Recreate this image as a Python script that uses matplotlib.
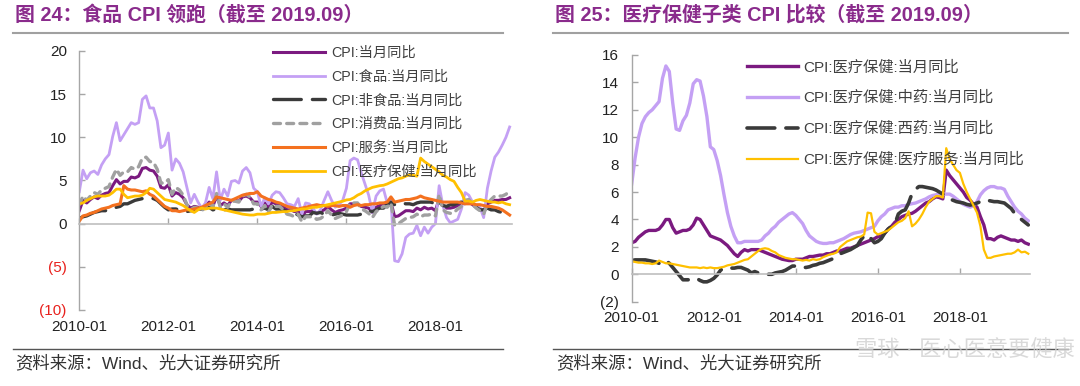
import matplotlib
matplotlib.use("Agg")
import matplotlib.pyplot as plt
from matplotlib.lines import Line2D
import numpy as np

plt.rcParams['font.family'] = ['Liberation Sans', 'Noto Sans CJK SC', 'DejaVu Sans']
plt.rcParams['lines.scale_dashes'] = False

# ---------------- data (monthly, 2010-01 .. 2019-09) ----------------
xtick_labels = ['2010-01', '2012-01', '2014-01', '2016-01', '2018-01']
xtick_months = [0, 24, 48, 72, 96]

cpi = [1.5, 2.7, 2.4, 2.8, 3.1, 2.9, 3.3, 3.5, 3.6, 4.4, 5.1, 4.6,
       4.9, 4.9, 5.4, 5.3, 5.5, 6.4, 6.5, 6.2, 6.1, 5.5, 4.2, 4.1,
       4.5, 3.2, 3.6, 3.4, 3.0, 2.2, 1.8, 2.0, 1.9, 1.7, 2.0, 2.5,
       2.0, 3.2, 2.1, 2.4, 2.1, 2.7, 2.7, 2.6, 3.1, 3.2, 3.0, 2.5,
       2.5, 2.0, 2.4, 1.8, 2.5, 2.3, 2.3, 2.0, 1.6, 1.6, 1.4, 1.5,
       0.8, 1.4, 1.4, 1.5, 1.2, 1.4, 1.6, 2.0, 1.6, 1.3, 1.5, 1.6,
       1.8, 2.3, 2.3, 2.3, 2.0, 1.9, 1.8, 1.3, 1.9, 2.1, 2.3, 2.1,
       2.5, 0.8, 0.9, 1.2, 1.5, 1.5, 1.4, 1.8, 1.6, 1.9, 1.7, 1.8,
       1.5, 2.9, 2.1, 1.8, 1.8, 1.9, 2.1, 2.3, 2.5, 2.5, 2.2, 1.9,
       1.7, 1.5, 2.3, 2.5, 2.7, 2.7, 2.8, 2.8, 3.0]

food = [3.7, 6.2, 5.2, 5.9, 6.1, 5.7, 6.8, 7.5, 8.0, 10.1, 11.7, 9.6,
        10.3, 11.0, 11.7, 11.5, 11.7, 14.4, 14.8, 13.4, 13.4, 11.9, 8.8, 9.1,
        10.5, 6.2, 7.5, 7.0, 6.0, 4.2, 2.4, 3.4, 2.5, 1.8, 2.4, 4.2,
        2.9, 6.0, 2.7, 4.0, 3.2, 4.9, 5.0, 4.7, 6.1, 6.5, 5.9, 4.1,
        3.7, 2.0, 3.0, 2.3, 3.3, 3.7, 3.6, 3.0, 2.3, 2.2, 2.0, 2.9,
        1.1, 2.4, 2.3, 1.8, 1.1, 1.6, 2.7, 3.7, 2.7, 1.9, 2.2, 2.7,
        4.1, 7.3, 7.6, 7.4, 5.9, 4.6, 3.3, 1.3, 3.2, 3.8, 4.0, 2.4,
        2.7, -4.3, -4.4, -3.5, -1.6, -1.2, -1.1, -0.2, -1.4, -0.4, -1.1, -0.4,
        0.0, 4.4, 2.1, 0.7, 0.1, 0.3, 0.5, 1.7, 3.6, 3.3, 2.5, 1.9,
        1.9, 0.7, 4.1, 6.1, 7.7, 8.3, 9.1, 10.0, 11.2]

nonfood = [0.6, 0.8, 0.9, 1.1, 1.3, 1.4, 1.5, 1.5, 1.6, 1.7, 1.9, 2.0,
           2.3, 2.3, 2.5, 2.7, 2.8, 2.9, 2.9, 3.0, 2.9, 2.7, 2.3, 1.9,
           1.6, 1.7, 1.7, 1.6, 1.5, 1.4, 1.5, 1.5, 1.7, 1.7, 1.8, 1.9,
           1.6, 1.7, 1.7, 1.6, 1.7, 1.6, 1.6, 1.6, 1.6, 1.6, 1.6, 1.7,
           2.0, 1.7, 1.8, 1.6, 2.0, 1.7, 1.7, 1.6, 1.4, 1.4, 1.2, 1.0,
           0.8, 0.9, 0.9, 1.3, 1.2, 1.3, 1.1, 1.0, 1.0, 1.1, 1.2, 1.1,
           1.0, 1.0, 1.0, 1.0, 1.1, 1.2, 1.5, 1.4, 1.6, 1.8, 1.8, 2.2,
           2.5, 2.2, 2.3, 2.4, 2.3, 2.3, 2.2, 2.4, 2.5, 2.5, 2.5, 2.5,
           2.0, 2.5, 2.1, 2.0, 2.2, 2.2, 2.4, 2.5, 2.3, 2.4, 2.2, 1.9,
           1.6, 1.6, 1.8, 1.6, 1.6, 1.4, 1.3, 1.1, 1.0]

consumer = [2.2, 3.2, 2.7, 3.2, 3.6, 3.4, 3.9, 4.1, 4.3, 5.4, 6.3, 5.6,
            6.0, 6.0, 6.5, 6.3, 6.6, 7.6, 7.7, 7.2, 7.1, 6.3, 4.7, 4.7,
            5.1, 3.4, 4.2, 3.9, 3.3, 2.2, 1.6, 1.9, 1.8, 1.5, 1.9, 2.6,
            1.9, 3.5, 1.9, 2.3, 1.9, 2.6, 2.6, 2.5, 3.2, 3.4, 3.1, 2.3,
            2.3, 1.6, 2.1, 1.3, 2.2, 2.0, 2.0, 1.6, 1.1, 1.0, 0.8, 1.1,
            0.2, 0.8, 0.8, 0.8, 0.5, 0.6, 0.9, 1.5, 1.0, 0.6, 0.8, 1.0,
            1.4, 2.4, 2.4, 2.4, 1.7, 1.5, 1.2, 0.7, 1.4, 1.7, 2.0, 1.9,
            2.4, -0.2, 0.0, 0.3, 0.6, 0.7, 0.8, 1.1, 0.8, 1.0, 1.0, 1.1,
            0.9, 3.4, 1.6, 1.3, 1.2, 1.3, 1.7, 2.0, 2.7, 2.8, 2.3, 1.8,
            1.5, 1.1, 2.3, 2.8, 3.2, 3.2, 3.2, 3.4, 3.8]

services = [0.3, 0.9, 1.0, 1.2, 1.3, 1.5, 1.7, 1.8, 1.9, 2.1, 2.2, 2.3,
            4.4, 4.0, 3.9, 3.9, 3.8, 3.7, 3.8, 3.4, 3.2, 2.8, 2.4, 2.0,
            1.8, 1.5, 1.5, 1.4, 1.5, 1.6, 1.6, 1.7, 1.8, 1.9, 2.1, 2.3,
            2.5, 3.1, 3.0, 2.9, 2.8, 2.7, 2.9, 3.1, 3.3, 3.4, 3.5, 3.5,
            3.7, 3.2, 3.0, 2.8, 2.7, 2.5, 2.4, 2.2, 2.0, 1.9, 1.8, 1.7,
            1.8, 1.9, 2.0, 2.1, 2.2, 2.1, 2.1, 2.0, 2.1, 2.1, 2.0, 2.1,
            2.1, 1.9, 2.1, 2.2, 2.1, 2.2, 2.2, 2.3, 2.3, 2.4, 2.4, 2.5,
            3.1, 2.5, 2.6, 2.7, 2.8, 2.8, 2.9, 3.0, 3.2, 3.0, 2.9, 2.8,
            2.7, 2.6, 2.5, 2.5, 2.5, 2.5, 2.5, 2.4, 2.3, 2.3, 2.3, 2.2,
            2.2, 2.1, 2.0, 2.0, 1.9, 1.8, 1.6, 1.3, 1.0]

healthcare = [2.3, 2.4, 2.7, 2.9, 3.1, 3.2, 3.2, 3.2, 3.3, 3.6, 4.0, 4.0,
              3.4, 3.0, 3.1, 3.2, 3.2, 3.3, 3.6, 4.1, 4.0, 3.6, 3.2, 2.8,
              2.7, 2.6, 2.5, 2.3, 2.1, 1.8, 1.5, 1.3, 1.6, 1.8, 1.7, 1.8,
              1.8, 1.8, 1.7, 1.6, 1.5, 1.4, 1.3, 1.2, 1.1, 1.05, 1.0, 1.0,
              1.1, 1.1, 1.1, 1.2, 1.3, 1.3, 1.35, 1.4, 1.4, 1.5, 1.5, 1.6,
              1.7, 1.7, 1.8, 1.9, 1.9, 2.0, 2.1, 2.2, 2.3, 2.4, 2.5, 2.6,
              2.75, 2.8, 3.0, 3.3, 3.5, 3.8, 4.0, 4.2, 4.3, 4.4, 4.45, 4.6,
              4.8, 5.0, 5.2, 5.3, 5.5, 5.65, 5.6, 5.5, 7.6, 7.2, 6.9, 6.6,
              6.3, 6.0, 5.6, 5.4, 5.1, 4.9, 4.2, 3.6, 2.6, 2.6, 2.5, 2.7,
              2.8, 2.7, 2.6, 2.5, 2.5, 2.4, 2.5, 2.3, 2.2]

tcm = [6.6, 8.5, 10.0, 11.0, 11.5, 11.8, 12.0, 12.3, 12.6, 14.3, 15.2, 14.8,
       12.5, 10.6, 10.5, 11.2, 11.6, 12.5, 13.9, 14.2, 14.1, 13.0, 11.5, 9.3,
       9.1, 8.3, 7.2, 5.8, 4.5, 3.5, 2.8, 2.3, 2.3, 2.4, 2.4, 2.4,
       2.4, 2.4, 2.5, 2.8, 3.0, 3.3, 3.5, 3.8, 4.0, 4.2, 4.4, 4.5,
       4.3, 4.0, 3.7, 3.2, 2.8, 2.6, 2.4, 2.3, 2.25, 2.25, 2.3, 2.3,
       2.4, 2.5, 2.6, 2.75, 2.9, 3.0, 3.05, 3.1, 3.2, 3.3, 3.4, 3.5,
       3.9, 4.2, 4.4, 4.7, 4.8, 4.9, 4.9, 5.0, 5.0, 5.1, 5.15, 5.2,
       5.3, 5.4, 5.5, 5.65, 5.75, 5.8, 5.85, 5.85, 5.85, 5.85, 5.7, 5.5,
       5.3, 5.1, 5.0, 4.9, 5.0, 5.3, 5.8, 6.1, 6.3, 6.4, 6.4, 6.3,
       6.3, 6.2, 5.7, 5.3, 4.9, 4.6, 4.4, 4.1, 3.9]

western = [1.0, 1.05, 1.05, 1.05, 1.05, 1.0, 0.95, 0.9, 0.8, 1.0, 1.0, 0.8,
           0.5, 0.2, -0.1, -0.4, -0.4, -0.4, -0.35, -0.3, -0.45, -0.55, -0.55, -0.45,
           -0.3, -0.05, 0.3, 0.45, 0.45, 0.45, 0.45, 0.5, 0.5, 0.4, 0.3, 0.1,
           0.2, 0.1, 0.0, 0.0, 0.0, 0.0, 0.1, 0.15, 0.2, 0.3, 0.45, 0.6,
           0.6, 0.55, 0.5, 0.5, 0.55, 0.65, 0.7, 0.8, 0.85, 0.95, 1.05, 1.15,
           1.3, 1.5, 1.6, 1.7, 1.8, 1.95, 2.1, 2.5, 2.8, 2.9, 2.6, 2.3,
           2.4, 2.6, 3.0, 3.3, 3.5, 3.7, 4.4, 4.6, 4.7, 5.2, 5.9, 6.2,
           6.4, 6.4, 6.35, 6.3, 6.25, 6.15, 6.0, 5.85, 5.7, 5.5, 5.4, 5.3,
           5.25, 5.2, 5.1, 5.05, 5.1, 5.2, 5.3, 5.4, 5.4, 5.35, 5.3, 5.3,
           5.25, 5.2, 5.0, 4.8, 4.45, 4.2, 4.0, 3.8, 3.6]

medservice = [0.95, 0.9, 0.85, 0.85, 0.8, 0.8, 0.75, 0.8, 1.0, 0.9, 0.8, 0.8,
              0.75, 0.7, 0.65, 0.6, 0.55, 0.5, 0.5, 0.5, 0.45, 0.5, 0.45, 0.5,
              0.45, 0.45, 0.5, 0.55, 0.65, 0.7, 0.75, 0.85, 0.95, 1.05, 1.1, 1.3,
              1.5, 1.7, 1.85, 1.9, 1.85, 1.7, 1.6, 1.4, 1.3, 1.2, 1.15, 1.1,
              1.1, 1.05, 1.0, 1.05, 1.0, 1.1, 1.05, 1.1, 1.25, 1.35, 1.45, 1.5,
              1.6, 2.0, 2.2, 2.4, 2.5, 2.6, 2.7, 2.75, 2.9, 4.5, 4.45, 3.1,
              2.9, 3.0, 3.1, 3.2, 3.4, 3.6, 3.8, 3.9, 4.1, 4.6, 3.5, 3.7,
              4.0, 4.4, 4.9, 5.3, 5.5, 5.7, 5.7, 5.6, 9.2, 8.4, 8.0, 7.6,
              7.4, 6.6, 6.0, 5.5, 5.0, 4.5, 3.5, 1.8, 1.2, 1.2, 1.3, 1.35,
              1.4, 1.45, 1.5, 1.5, 1.6, 1.8, 1.6, 1.65, 1.5]

left_labels = ['CPI:当月同比', 'CPI:食品:当月同比', 'CPI:非食品:当月同比',
               'CPI:消费品:当月同比', 'CPI:服务:当月同比', 'CPI:医疗保健:当月同比']
right_labels = ['CPI:医疗保健:当月同比', 'CPI:医疗保健:中药:当月同比',
                'CPI:医疗保健:西药:当月同比', 'CPI:医疗保健:医疗服务:当月同比']

title_left = '图 24：食品 CPI 领跑（截至 2019.09）'
title_right = '图 25：医疗保健子类 CPI 比较（截至 2019.09）'
source_text = '资料来源：Wind、光大证券研究所'

# ---------------- style ----------------
C_PURPLE = '#7B1A80'
C_LAV = '#C4A0F4'
C_DARK = '#3A3A3A'
C_GRAY = '#A0A0A0'
C_ORANGE = '#F4711F'
C_YELLOW = '#FFC000'
AX_COLOR = '#A6A6A6'
TITLE_COLOR = '#8A2B8C'

W, H = 1080, 386
fig = plt.figure(figsize=(W / 100, H / 100), dpi=100)


def fx(px):
    return px / W


def fy(py):
    return 1 - py / H


def style_axes(ax, ylim, yticks, ylabels, ycolors):
    ax.set_xlim(0, 116.5)
    ax.set_ylim(*ylim)
    ax.set_yticks(yticks)
    ax.set_yticklabels(ylabels)
    for lab, c in zip(ax.get_yticklabels(), ycolors):
        lab.set_color(c)
    for s in ['top', 'right']:
        ax.spines[s].set_visible(False)
    ax.spines['left'].set_color(AX_COLOR)
    ax.spines['left'].set_linewidth(1.0)
    ax.spines['bottom'].set_position(('data', 0))
    ax.spines['bottom'].set_color('#BFBFBF')
    ax.spines['bottom'].set_linewidth(1.2)
    ax.tick_params(axis='y', direction='in', length=4, width=1, color=AX_COLOR,
                   pad=9, labelsize=11)
    ax.set_xticks(xtick_months)
    ax.tick_params(axis='x', direction='in', length=4, width=1, color=AX_COLOR,
                   labelbottom=False)
    sec = ax.secondary_xaxis('bottom')
    sec.set_xticks(xtick_months)
    sec.set_xticklabels(xtick_labels)
    sec.tick_params(length=0, pad=7, labelsize=11, labelcolor='#222222')
    sec.spines['bottom'].set_visible(False)
    ax.set_facecolor('none')


# ---------------- left chart ----------------
axL = fig.add_axes([fx(79.3), fy(310), fx(511.5 - 79.3), (310 - 51) / H])
axL.plot(np.arange(len(cpi)), cpi, color=C_PURPLE, lw=2.2, label=left_labels[0])
axL.plot(np.arange(len(food)), food, color=C_LAV, lw=2.0, label=left_labels[1])
axL.plot(np.arange(len(nonfood)), nonfood, color=C_DARK, lw=2.4,
         dashes=(20, 8), dash_capstyle='round', label=left_labels[2])
axL.plot(np.arange(len(consumer)), consumer, color=C_GRAY, lw=2.4,
         dashes=(5, 4.5), dash_capstyle='round', label=left_labels[3])
axL.plot(np.arange(len(services)), services, color=C_ORANGE, lw=2.2, label=left_labels[4])
axL.plot(np.arange(len(healthcare)), healthcare, color=C_YELLOW, lw=2.0, label=left_labels[5])
style_axes(axL, (-10, 20), [-10, -5, 0, 5, 10, 15, 20],
           ['(10)', '(5)', '0', '5', '10', '15', '20'],
           ['#E8211D', '#E8211D', '#222222', '#222222', '#222222', '#222222', '#222222'])
legL = axL.legend(loc='upper left', bbox_to_anchor=(fx(273), fy(46)),
                  bbox_transform=fig.transFigure, frameon=False, fontsize=10.3,
                  handlelength=3.6, handletextpad=0.45, labelspacing=0.68,
                  borderpad=0, borderaxespad=0)
for t in legL.get_texts():
    t.set_color('#404040')

# ---------------- right chart ----------------
axR = fig.add_axes([fx(631.7), fy(301.7), fx(1030 - 631.7), (301.7 - 55) / H])
axR.plot(np.arange(len(healthcare)), healthcare, color=C_PURPLE, lw=2.4, label=right_labels[0])
axR.plot(np.arange(len(tcm)), tcm, color=C_LAV, lw=2.4, label=right_labels[1])
axR.plot(np.arange(len(western)), western, color=C_DARK, lw=2.6,
         dashes=(20, 8), dash_capstyle='round', label=right_labels[2])
axR.plot(np.arange(len(medservice)), medservice, color=C_YELLOW, lw=1.6, label=right_labels[3])
style_axes(axR, (-2, 16), list(range(-2, 17, 2)),
           ['(2)'] + [str(v) for v in range(0, 17, 2)], ['#222222'] * 10)
legR = axR.legend(loc='upper left', bbox_to_anchor=(fx(746.7), fy(60)),
                  bbox_transform=fig.transFigure, frameon=False, fontsize=11,
                  handlelength=3.35, handletextpad=0.35, labelspacing=1.08,
                  borderpad=0, borderaxespad=0)
for t in legR.get_texts():
    t.set_color('#404040')

# ---------------- titles, rules, sources ----------------
fig.text(fx(15), fy(15), title_left, ha='left', va='center', fontsize=14.3,
         fontweight='bold', color=TITLE_COLOR)
fig.text(fx(555), fy(15), title_right, ha='left', va='center', fontsize=14.3,
         fontweight='bold', color=TITLE_COLOR)
for x0, x1 in [(13, 503), (553, 1068)]:
    fig.add_artist(Line2D([fx(x0), fx(x1)], [fy(33), fy(33)], color='#A0A0A0', lw=1.5))
    fig.add_artist(Line2D([fx(x0), fx(x1)], [fy(349), fy(349)], color='#555555', lw=1.0))
fig.text(fx(15), fy(363), source_text, ha='left', va='center', fontsize=12.5, color='#333333')
fig.text(fx(556), fy(363), source_text, ha='left', va='center', fontsize=12.5, color='#333333')
fig.text(fx(1075), fy(350), '雪球 · 医心医意要健康', ha='right', va='center',
         fontsize=16, color='#D0D0D0', alpha=0.8)

fig.savefig('out.png', dpi=100)
